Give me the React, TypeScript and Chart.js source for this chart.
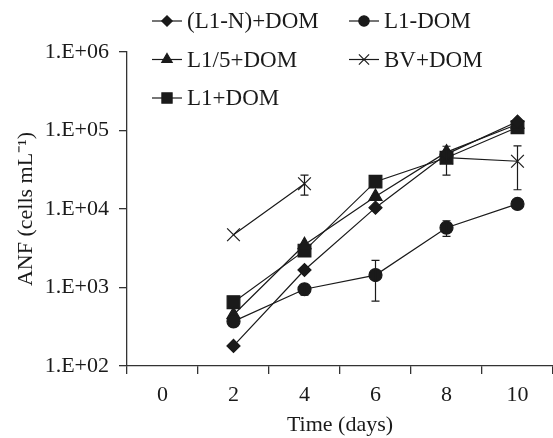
import React, { useEffect, useRef } from 'react';
import { Chart, registerables } from 'chart.js';
import { drawPoint } from 'chart.js/helpers';

Chart.register(...registerables);

const days = ['0', '2', '4', '6', '8', '10'];
const yTickValues = [1e2, 1e3, 1e4, 1e5, 1e6];
const seriesNames = ['(L1-N)+DOM', 'L1-DOM', 'L1/5+DOM', 'BV+DOM', 'L1+DOM'];

const l1nPlusDom = [null, 180, 1670, 10400, 50000, 130000];
const l1MinusDom = [null, 370, 950, 1440, 5780, 11600];
const l1FifthPlusDom = [null, 450, 3500, 14400, 53000, 120000];
const bvPlusDom = [null, 4700, 21000, null, 45000, 40600];
const l1PlusDom = [null, 650, 2950, 22300, 45000, 110000];

const l1MinusDomErr = [0, 0, 150, 770, 1300, 0];
const bvPlusDomErr = [0, 0, 6000, 0, 18000, 23000];

const INK = '#1a1a1a';
const FONT = "'Liberation Serif', 'Times New Roman', serif";

const styles = [
  { pointStyle: 'rectRot', radius: 6.5 },
  { pointStyle: 'circle', radius: 6.5 },
  { pointStyle: 'triangle', radius: 7.5 },
  { pointStyle: 'crossRot', radius: 9 },
  { pointStyle: 'rect', radius: 9 },
];
const seriesData = [l1nPlusDom, l1MinusDom, l1FifthPlusDom, bvPlusDom, l1PlusDom];
const seriesErr = [null, l1MinusDomErr, null, bvPlusDomErr, null];

const errorBarPlugin = {
  id: 'errorBars',
  afterDatasetsDraw(chart: any) {
    const { ctx, scales } = chart;
    ctx.save();
    ctx.strokeStyle = INK;
    ctx.lineWidth = 1.2;
    chart.data.datasets.forEach((ds: any, i: number) => {
      const err = seriesErr[i];
      if (!err) return;
      ds.data.forEach((v: any, j: number) => {
        if (v == null || !err[j]) return;
        const x = scales.x.getPixelForValue(j);
        const yTop = scales.y.getPixelForValue(v + err[j]);
        const yBot = scales.y.getPixelForValue(Math.max(v - err[j], 1));
        ctx.beginPath();
        ctx.moveTo(x, yTop);
        ctx.lineTo(x, yBot);
        ctx.moveTo(x - 4, yTop);
        ctx.lineTo(x + 4, yTop);
        ctx.moveTo(x - 4, yBot);
        ctx.lineTo(x + 4, yBot);
        ctx.stroke();
      });
    });
    ctx.restore();
  },
};

const legendPlugin = {
  id: 'insideLegend',
  afterDraw(chart: any) {
    const { ctx, chartArea } = chart;
    ctx.save();
    ctx.font = `23px ${FONT}`;
    ctx.textBaseline = 'middle';
    ctx.textAlign = 'left';
    seriesNames.forEach((name, i) => {
      const col = i % 2;
      const row = Math.floor(i / 2);
      const x0 = chartArea.left + 25 + col * 197;
      const y = chartArea.top - 31 + row * 38.5;
      ctx.strokeStyle = INK;
      ctx.lineWidth = 1.2;
      ctx.beginPath();
      ctx.moveTo(x0, y);
      ctx.lineTo(x0 + 30, y);
      ctx.stroke();
      ctx.fillStyle = INK;
      drawPoint(ctx, {
        pointStyle: styles[i].pointStyle as any,
        radius: styles[i].radius * 0.8,
        rotation: 0,
        borderWidth: 1.2,
      } as any, x0 + 15, y);
      ctx.fillStyle = INK;
      ctx.fillText(name, x0 + 35, y + 1);
    });
    ctx.restore();
  },
};

export default function App() {
  const ref = useRef<HTMLCanvasElement>(null);

  useEffect(() => {
    if (!ref.current) return;
    const tickFont = { family: FONT, size: 22 };
    const chart = new Chart(ref.current, {
      type: 'line',
      data: {
        labels: days,
        datasets: seriesNames.map((name, i) => ({
          label: name,
          data: seriesData[i] as any,
          borderColor: INK,
          backgroundColor: INK,
          borderWidth: 1.2,
          pointStyle: styles[i].pointStyle as any,
          pointRadius: styles[i].radius,
          pointBorderWidth: 1.2,
          pointBackgroundColor: INK,
          pointBorderColor: INK,
          spanGaps: false,
          tension: 0,
          fill: false,
        })),
      },
      options: {
        animation: false,
        responsive: false,
        maintainAspectRatio: false,
        layout: { autoPadding: false, padding: { top: 52, left: 0, right: 0, bottom: 0 } },
        plugins: {
          legend: { display: false },
          tooltip: { enabled: false },
        },
        scales: {
          x: {
            type: 'category',
            offset: true,
            grid: {
              offset: true,
              drawOnChartArea: false,
              drawTicks: true,
              tickLength: 8,
              color: '#333',
              lineWidth: 1.3,
            },
            border: { display: true, color: '#333', width: 1.3 },
            ticks: {
              color: INK,
              font: tickFont,
              padding: 8,
              maxRotation: 0,
              autoSkip: false,
            },
            title: {
              display: true,
              text: 'Time (days)',
              color: INK,
              font: tickFont,
              padding: { top: 0, bottom: 0 },
            },
            afterFit: (s: any) => {
              s.height = 72;
              s.paddingLeft = 0;
              s.paddingRight = 0;
            },
          },
          y: {
            type: 'logarithmic',
            min: 100,
            max: 1e6,
            afterBuildTicks: (s: any) => {
              s.ticks = yTickValues.map((v) => ({ value: v }));
            },
            afterFit: (s: any) => {
              s.width = 127;
            },
            grid: {
              drawOnChartArea: false,
              drawTicks: true,
              tickLength: 8,
              color: '#333',
              lineWidth: 1.3,
            },
            border: { display: true, color: '#333', width: 1.3 },
            ticks: {
              color: INK,
              font: tickFont,
              padding: 10,
              autoSkip: false,
              callback: (v: any) => {
                const e = Math.round(Math.log10(Number(v)));
                return `1.E+${e < 10 ? '0' + e : e}`;
              },
            },
            title: {
              display: true,
              text: 'ANF (cells mL\u207B\u00B9)',
              color: INK,
              font: tickFont,
              padding: { top: 13, bottom: 0 },
            },
          },
        },
      },
      plugins: [errorBarPlugin, legendPlugin],
    } as any);
    return () => chart.destroy();
  }, []);

  return (
    <div style={{ position: 'fixed', left: 0, top: 0, width: 553, height: 438, background: '#fff' }}>
      <canvas ref={ref} width={553} height={438} style={{ display: 'block', width: 553, height: 438 }} />
    </div>
  );
}
